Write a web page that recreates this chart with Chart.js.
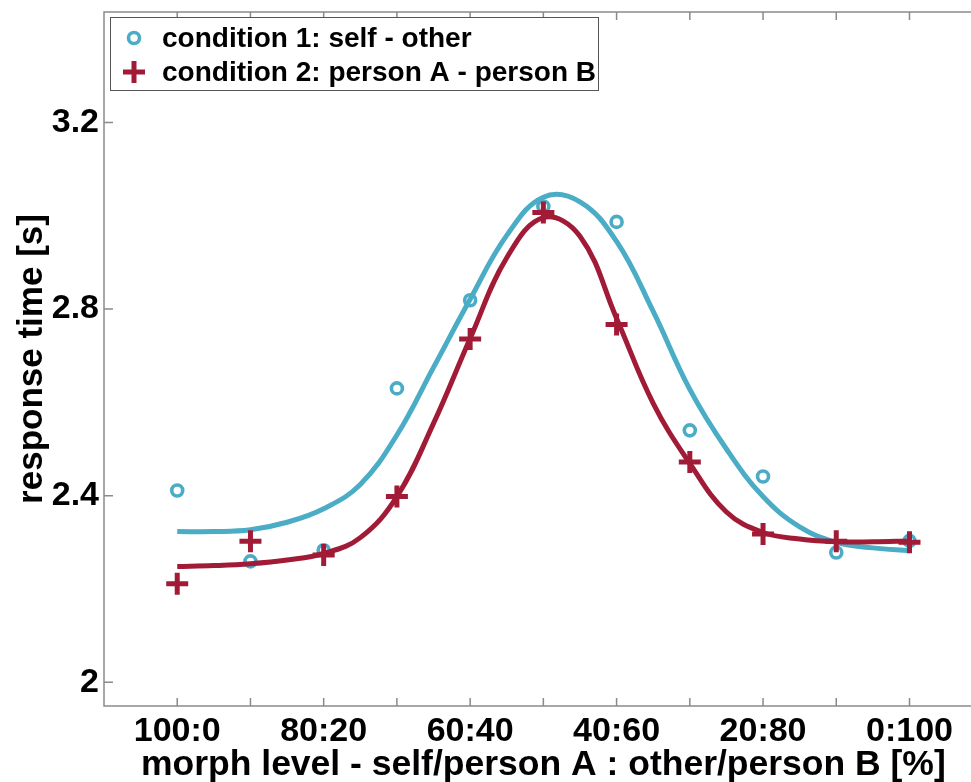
<!DOCTYPE html>
<html>
<head>
<meta charset="utf-8">
<title>response time by morph level</title>
<script src="https://cdn.jsdelivr.net/npm/chart.js@4.4.1/dist/chart.umd.min.js"></script>
<style>
  html, body { margin: 0; padding: 0; background: #fff; overflow: hidden; }
  canvas { display: block; }
</style>
</head>
<body>
<canvas id="rtChart" width="971" height="782"></canvas>
<script>
// morph steps, 0 = 100:0 ... 10 = 0:100
const morphSteps = [0, 1, 2, 3, 4, 5, 6, 7, 8, 9, 10];
const morphLabels = ['100:0', '', '80:20', '', '60:40', '', '40:60', '', '20:80', '', '0:100'];
const yTicks = [2, 2.4, 2.8, 3.2];

// mean response times [s]
const selfOther = [2.411, 2.259, 2.283, 2.630, 2.819, 3.020, 2.987, 2.540, 2.441, 2.278, 2.303];
const personAB  = [2.211, 2.302, 2.273, 2.398, 2.736, 3.007, 2.767, 2.472, 2.318, 2.302, 2.300];

// fitted curves (at half steps)
const fitSteps     = [0, 0.5, 1, 1.5, 2, 2.5, 3, 3.5, 4, 4.5, 5, 5.5, 6, 6.5, 7, 7.5, 8, 8.5, 9, 9.5, 10];
const fitSelfOther = [2.323, 2.323, 2.327, 2.343, 2.372, 2.424, 2.530, 2.675, 2.821, 2.958, 3.040, 3.030, 2.945, 2.795, 2.628, 2.500, 2.398, 2.333, 2.300, 2.288, 2.282];
const fitPersonAB  = [2.248, 2.250, 2.254, 2.262, 2.276, 2.310, 2.398, 2.555, 2.737, 2.910, 2.996, 2.956, 2.780, 2.598, 2.469, 2.365, 2.321, 2.307, 2.301, 2.301, 2.303];

const CYAN = '#4bacc6';
const RED = '#a11b37';
const FONT = 'Liberation Sans, Arial, Helvetica, sans-serif';

const toPoints = (xs, ys) => xs.map((x, i) => ({ x: x, y: ys[i] }));

// axes box with inward ticks (matlab look)
const frame = {
    id: 'frame',
    beforeDatasetsDraw(chart) {
        const { ctx, chartArea: a, scales: { x, y } } = chart;
        ctx.save();
        ctx.strokeStyle = '#8a8a8a';
        ctx.lineWidth = 1.5;
        ctx.beginPath();
        ctx.moveTo(a.right, a.top);
        ctx.lineTo(a.left, a.top);
        ctx.lineTo(a.left, a.bottom);
        ctx.lineTo(a.right, a.bottom);
        x.ticks.forEach(t => {
            const px = x.getPixelForValue(t.value);
            ctx.moveTo(px, a.bottom); ctx.lineTo(px, a.bottom - 8);
            ctx.moveTo(px, a.top); ctx.lineTo(px, a.top + 8);
        });
        y.ticks.forEach(t => {
            const py = y.getPixelForValue(t.value);
            ctx.moveTo(a.left, py); ctx.lineTo(a.left + 9, py);
        });
        ctx.stroke();
        ctx.restore();
    }
};

// boxed legend in the top-left corner
const boxLegend = {
    id: 'boxLegend',
    afterDraw(chart) {
        const ctx = chart.ctx;
        const items = chart.data.datasets.filter(d => d.showLine === false);
        ctx.save();
        ctx.fillStyle = '#fff';
        ctx.fillRect(110.5, 17.5, 488, 73);
        ctx.strokeStyle = '#555';
        ctx.lineWidth = 1;
        ctx.strokeRect(110.5, 17.5, 488, 73);
        items.forEach((d, i) => {
            const yy = 38 + i * 34;
            ctx.strokeStyle = d.borderColor;
            ctx.fillStyle = 'rgba(0,0,0,0)';
            ctx.lineWidth = d.pointBorderWidth;
            Chart.helpers.drawPoint(ctx, {
                pointStyle: d.pointStyle, radius: d.pointRadius,
                borderWidth: d.pointBorderWidth, rotation: 0
            }, 134, yy);
            ctx.fillStyle = '#000';
            ctx.font = 'bold 28px ' + FONT;
            ctx.textBaseline = 'middle';
            ctx.fillText(d.label, 162, yy + 1);
        });
        ctx.restore();
    }
};

// axis titles
const axisTitles = {
    id: 'axisTitles',
    afterDraw(chart) {
        const { ctx, scales: { x, y } } = chart;
        ctx.save();
        ctx.fillStyle = '#000';
        ctx.font = 'bold 35.5px ' + FONT;
        ctx.textAlign = 'center';
        ctx.textBaseline = 'alphabetic';
        ctx.fillText('morph level - self/person A : other/person B [%]', x.getPixelForValue(5), 775);
        ctx.translate(42, (y.top + y.bottom) / 2);
        ctx.rotate(-Math.PI / 2);
        ctx.font = 'bold 35px ' + FONT;
        ctx.fillText('response time [s]', 0, 0);
        ctx.restore();
    }
};

new Chart(document.getElementById('rtChart').getContext('2d'), {
    type: 'line',
    data: {
        datasets: [
            {
                label: 'condition 1: self - other',
                data: toPoints(morphSteps, selfOther),
                showLine: false,
                pointStyle: 'circle',
                pointRadius: 5.5,
                pointBorderWidth: 3.6,
                borderColor: CYAN,
                pointBackgroundColor: 'rgba(0,0,0,0)',
                order: 4
            },
            {
                label: 'condition 2: person A - person B',
                data: toPoints(morphSteps, personAB),
                showLine: false,
                pointStyle: 'cross',
                pointRadius: 11,
                pointBorderWidth: 5,
                borderColor: RED,
                order: 1
            },
            {
                label: 'fit 1',
                data: toPoints(fitSteps, fitSelfOther),
                borderColor: CYAN,
                borderWidth: 5,
                pointRadius: 0,
                tension: 0.4,
                order: 3
            },
            {
                label: 'fit 2',
                data: toPoints(fitSteps, fitPersonAB),
                borderColor: RED,
                borderWidth: 5,
                pointRadius: 0,
                tension: 0.4,
                order: 2
            }
        ]
    },
    options: {
        responsive: false,
        animation: false,
        layout: { autoPadding: false, padding: { top: 12, right: 0, left: 0, bottom: 0 } },
        plugins: { legend: { display: false }, tooltip: { enabled: false } },
        scales: {
            x: {
                type: 'linear',
                min: -1,
                max: 10.84,
                grid: { display: false, drawTicks: false },
                border: { display: false },
                afterBuildTicks: s => { s.ticks = morphSteps.map(v => ({ value: v })); },
                afterFit: s => { s.height = 76; s.paddingLeft = 0; s.paddingRight = 0; },
                ticks: {
                    autoSkip: false,
                    maxRotation: 0,
                    padding: 5,
                    color: '#000',
                    font: { family: FONT, size: 34, weight: 'bold' },
                    callback: (v, i) => morphLabels[i]
                }
            },
            y: {
                min: 1.949,
                max: 3.437,
                grid: { display: false, drawTicks: false },
                border: { display: false },
                afterBuildTicks: s => { s.ticks = yTicks.map(v => ({ value: v })); },
                afterFit: s => { s.width = 104; s.paddingTop = 0; s.paddingBottom = 0; },
                ticks: {
                    padding: 5,
                    color: '#000',
                    font: { family: FONT, size: 34, weight: 'bold' },
                    callback: v => String(v)
                }
            }
        }
    },
    plugins: [frame, boxLegend, axisTitles]
});
</script>
</body>
</html>
